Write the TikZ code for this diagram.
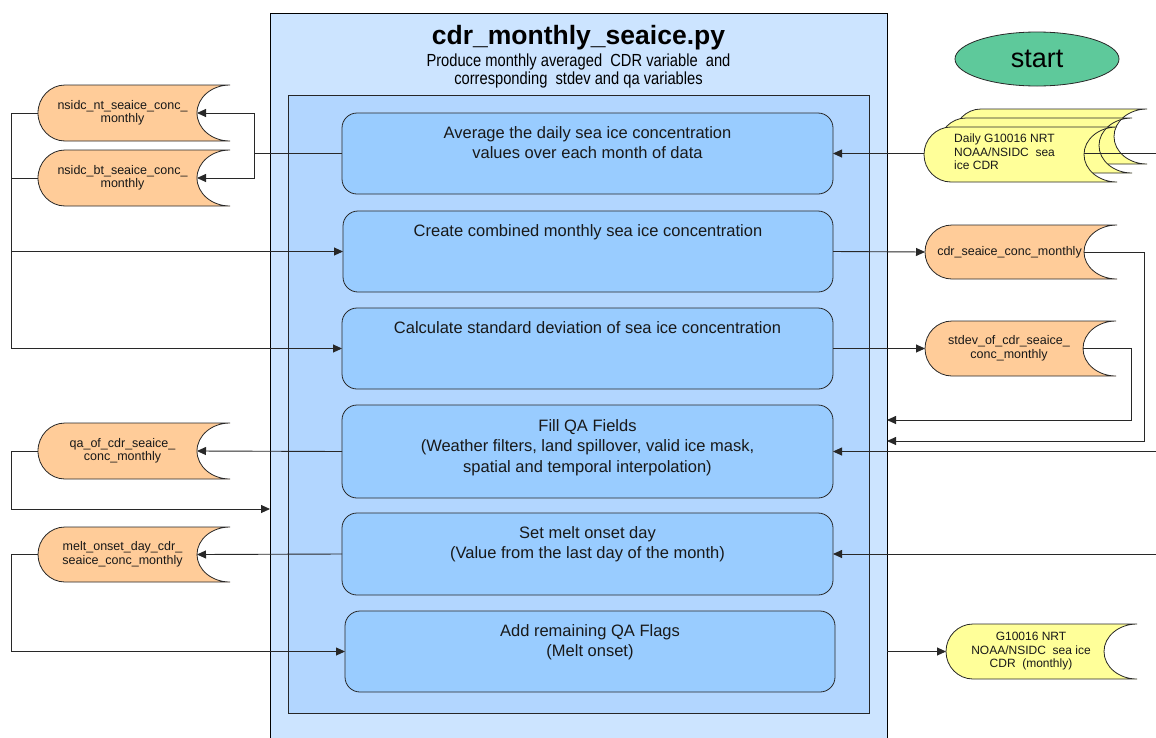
\documentclass[tikz,border=0pt]{standalone}
\usepackage{fontspec}
\setmainfont{Liberation Sans}
\newfontfamily\narrowfont[FakeStretch=0.84]{Liberation Sans}
\usetikzlibrary{arrows.meta,shapes.geometric,calc}
\definecolor{outerfill}{RGB}{204,228,255}
\definecolor{innerfill}{RGB}{178,214,255}
\definecolor{procfill}{RGB}{153,204,255}
\definecolor{orangefill}{RGB}{255,204,153}
\definecolor{yellowfill}{RGB}{255,255,153}
\definecolor{greenfill}{RGB}{94,201,155}
\definecolor{linecol}{RGB}{40,40,40}
\tikzset{
  outerbox/.style={draw=black, line width=0.9pt, fill=outerfill, inner sep=0pt, outer sep=0pt, anchor=north west},
  innerbox/.style={draw=black!85, line width=0.9pt, fill=innerfill, inner sep=0pt, outer sep=0pt, anchor=north west},
  procbox/.style={draw=linecol, line width=0.8pt, fill=procfill, rounded corners=15pt, inner sep=0pt, outer sep=0pt, anchor=north west},
  proctext/.style={font=\fontsize{16.5}{20.5}\selectfont, align=center, inner sep=0pt, anchor=north, text=black!90},
  storeline/.style={draw=linecol, line width=0.8pt},
  storetext/.style={font=\fontsize{12.5}{13.5}\selectfont, align=center, inner sep=0pt, text=black!90},
  yellowtext/.style={font=\fontsize{12}{13.5}\selectfont, align=center, inner sep=0pt, text=black!90},
  conn/.style={draw=linecol, line width=0.9pt},
  arr/.style={-{Triangle[length=9pt,width=8pt]}},
  startnode/.style={ellipse, draw=linecol, line width=0.8pt, fill=greenfill, minimum width=164pt, minimum height=54pt, inner sep=0pt, font=\fontsize{27}{30}\selectfont},
}
% data store outline: L, R, T, B, fill
\newcommand{\dshape}[5]{%
  \pgfmathsetmacro\dsh{(#4-#3)/2}%
  \draw[storeline, fill=#5] (#1+27,-#3) -- (#2,-#3)
     arc[start angle=90, end angle=270, x radius=33pt, y radius=\dsh pt]
     -- (#1+27,-#4)
     arc[start angle=270, end angle=90, x radius=27pt, y radius=\dsh pt] -- cycle;
}
% data store with name and text: name, L, R, T, B, fill, text
\newcommand{\dstore}[7]{%
  \dshape{#2}{#3}{#4}{#5}{#6}
  \node[storetext] (#1) at ({(#2+#3-33)/2+5}, {-(#4+#5)/2}) {#7};
  \coordinate (#1-in) at ({#3-33}, {-(#4+#5)/2});
  \coordinate (#1-w) at (#2, {-(#4+#5)/2});
}
\begin{document}
\begin{tikzpicture}[x=1pt,y=1pt]
\useasboundingbox (0,0) rectangle (1156,-737);
\clip (0,0) rectangle (1156,-737);
\fill[white] (0,0) rectangle (1156,-737);

% containers
\node[outerbox, minimum width=617pt, minimum height=740pt] (outer) at (270,-13) {};
\node[font=\fontsize{26.5}{30}\selectfont\bfseries, inner sep=0pt] (title) at (578.5,-38) {cdr\_monthly\_seaice.py};
\node[font=\narrowfont\fontsize{17.5}{18}\selectfont, align=center, inner sep=0pt] (sub) at (578.5,-71) {Produce monthly averaged\ \ CDR variable\ \ and\\corresponding\ \ stdev and qa variables};
\node[innerbox, minimum width=581pt, minimum height=618pt] (inner) at (288,-95) {};

% process boxes
\node[procbox, minimum width=491pt, minimum height=81pt] (b1) at (342,-113) {};
\node[procbox, minimum width=490pt, minimum height=81pt] (b2) at (343,-211) {};
\node[procbox, minimum width=491pt, minimum height=81pt] (b3) at (342,-308) {};
\node[procbox, minimum width=491pt, minimum height=93pt] (b4) at (342,-405) {};
\node[procbox, minimum width=491pt, minimum height=82pt] (b5) at (342,-513) {};
\node[procbox, minimum width=490pt, minimum height=81pt] (b6) at (345,-611) {};

\node[proctext] (t1) at (587.5,-126) {Average the daily sea ice concentration\\values over each month of data};
\node[proctext] (t2) at (588,-224) {Create combined monthly sea ice concentration};
\node[proctext] (t3) at (587.5,-321) {Calculate standard deviation of sea ice concentration};
\node[proctext] (t4) at (587.5,-419) {Fill QA Fields\\(Weather filters, land spillover, valid ice mask,\\spatial and temporal interpolation)};
\node[proctext] (t5) at (587.5,-526) {Set melt onset day\\(Value from the last day of the month)};
\node[proctext] (t6) at (590,-624) {Add remaining QA Flags\\(Melt onset)};

% start
\node[startnode] (start) at (1037,-59) {start};

% left data stores
\dstore{nt}{38}{230}{85}{141}{orangefill}{nsidc\_nt\_seaice\_conc\_\\monthly}
\dstore{bt}{38}{230}{150}{206}{orangefill}{nsidc\_bt\_seaice\_conc\_\\monthly}
\dstore{qa}{38}{230}{423}{479}{orangefill}{qa\_of\_cdr\_seaice\_\\conc\_monthly}
\dstore{melt}{38}{230}{527}{582}{orangefill}{melt\_onset\_day\_cdr\_\\seaice\_conc\_monthly}

% right data stores
\dshape{954}{1147}{109}{164}{yellowfill}
\dshape{939}{1132}{118}{173}{yellowfill}
\dshape{924}{1117}{127}{182}{yellowfill}
\node[yellowtext, align=left, anchor=west] (daily) at (954,-152) {Daily G10016 NRT\\NOAA/NSIDC\ \ sea\\ice CDR};
\coordinate (daily-in) at (1084,-154.5);
\coordinate (daily-w) at (924,-154.5);
\dstore{cdr}{925}{1117}{225}{279}{orangefill}{cdr\_seaice\_conc\_monthly}
\dstore{stdev}{925}{1116}{321}{376}{orangefill}{stdev\_of\_cdr\_seaice\_\\conc\_monthly}
\dshape{946}{1137}{624}{679}{yellowfill}
\node[yellowtext] (gm) at (1031,-651.5) {G10016 NRT\\NOAA/NSIDC\ \ sea ice\\CDR\ \ (monthly)};
\coordinate (gm-w) at (946,-651.5);

% helper coordinates
\coordinate (jL) at (254,-153.5);
\coordinate (lb) at (11,-113);
\coordinate (qd) at (11,-509);
\coordinate (rA) at (1144,-441);
\coordinate (rB) at (1131,-420);
\coordinate (e1) at (1156,-153.5);
\coordinate (e4) at (1156,-451.5);
\coordinate (e5) at (1156,-554);

% connectors left
\draw[conn] (b1.west) -- (jL);
\draw[conn,arr] (jL) |- (nt-in);
\draw[conn,arr] (jL) |- (bt-in);
\draw[conn] (nt-w) -| (lb |- b3.west);
\draw[conn] (bt-w) -- (bt-w -| lb);
\draw[conn,arr] (lb |- b2.west) -- (b2.west);
\draw[conn,arr] (lb |- b3.west) -- (b3.west);
\draw[conn,arr] (b4.west) -- (qa-in);
\draw[conn,arr] (qa-w) -| (qd) -- (qd -| outer.west);
\draw[conn,arr] (b5.west) -- (melt-in);
\draw[conn,arr] (melt-w) -| (lb |- b6.west) -- (b6.west);

% connectors right
\draw[conn] (daily-in |- e1) -- (e1);
\draw[conn,arr] (b1.east -| daily-w) -- (b1.east);
\draw[conn,arr] (b2.east) -- (cdr-w);
\draw[conn,arr] (b3.east) -- (stdev-w);
\draw[conn,arr] (cdr-in) -| (rA) -- (rA -| outer.east);
\draw[conn,arr] (stdev-in) -| (rB) -- (rB -| outer.east);
\draw[conn,arr] (e4) -- (b4.east);
\draw[conn,arr] (e5) -- (b5.east);
\draw[conn,arr] (outer.east |- gm-w) -- (gm-w);
\end{tikzpicture}
\end{document}
